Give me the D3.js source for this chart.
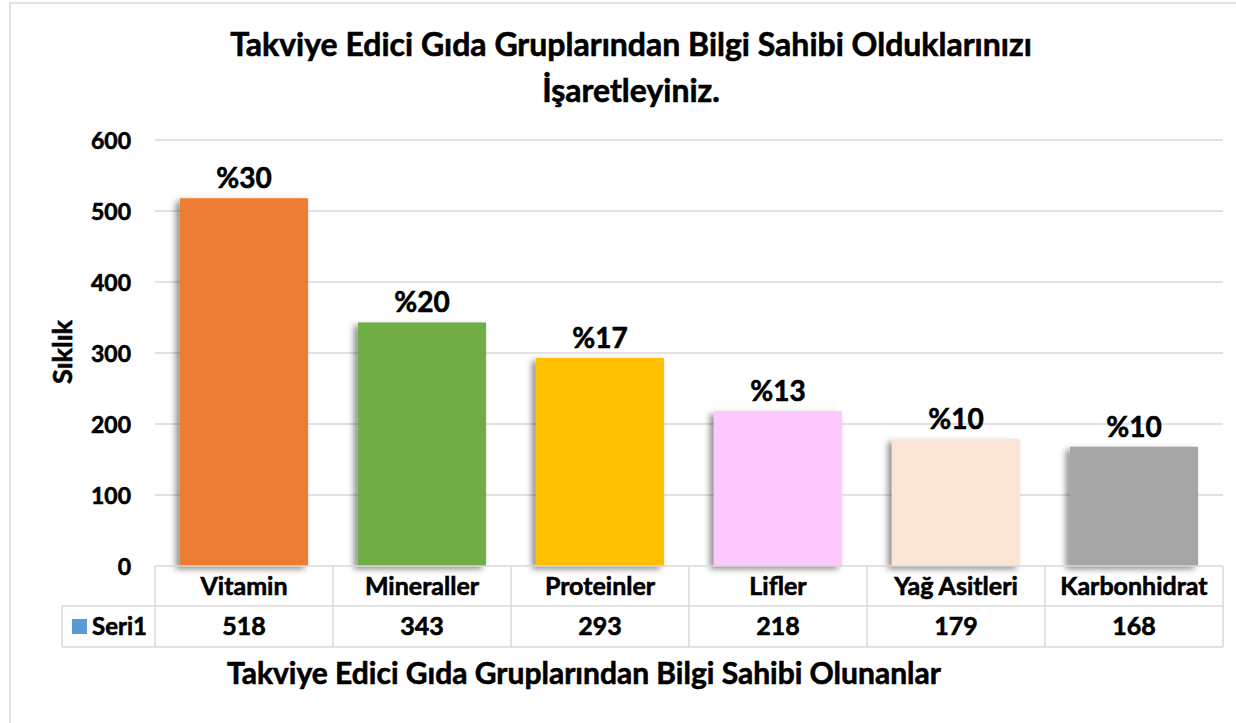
<!DOCTYPE html>
<html>
<head>
<meta charset="utf-8">
<script src="https://cdn.jsdelivr.net/npm/d3@7"></script>
<style>
body{margin:0;background:#fff;}
text{font-family:Lato,"Open Sans",sans-serif;font-weight:bold;fill:#000;stroke:#000;stroke-width:0.6px;}
</style>
</head>
<body>
<svg id="chart" width="1236" height="723"></svg>
<script>
// data
var categories=['Vitamin','Mineraller','Proteinler','Lifler','Yağ Asitleri','Karbonhidrat'];
var values=[518,343,293,218,179,168];
var percentLabels=['%30','%20','%17','%13','%10','%10'];
var barColors=['#ED7D31','#70AD47','#FFC000','#FCC9FF','#FBE5D6','#A5A5A5'];
var yTicks=[0,100,200,300,400,500,600];
var seriesName='Seri1';

var svg=d3.select('#chart');

// outer chart frame
svg.append('rect')
	.attr('x',10).attr('y',3)
	.attr('width',1240).attr('height',740)
	.attr('fill','none')
	.attr('stroke','#D9D9D9')
	.attr('stroke-width',1.5);

var plotLeft=155, plotRight=1223, plotTop=140, plotBottom=566;

var x=d3.scaleBand().domain(categories).range([plotLeft,plotRight]).paddingInner(0.28).paddingOuter(0.14);
var y=d3.scaleLinear().domain([0,600]).range([plotBottom,plotTop]);

// shadow for bars
var defs=svg.append('defs');
var f=defs.append('filter').attr('id','shadow').attr('x','-20%').attr('y','-20%').attr('width','140%').attr('height','140%');
f.append('feDropShadow').attr('dx',-4).attr('dy',3).attr('stdDeviation',3)
	.attr('flood-color','#000').attr('flood-opacity',0.45);

// gridlines
svg.append('g')
	.selectAll('line')
	.data(yTicks.filter(function(d){return d>0;}))
	.enter().append('line')
	.attr('x1',plotLeft).attr('x2',plotRight)
	.attr('y1',function(d){return y(d);})
	.attr('y2',function(d){return y(d);})
	.attr('stroke','#D9D9D9')
	.attr('stroke-width',1.5);

// y axis
var yAxis=svg.append('g')
	.attr('transform','translate(131,0)')
	.call(d3.axisLeft(y).tickValues(yTicks).tickSize(0).tickPadding(0));
yAxis.select('.domain').remove();
yAxis.selectAll('text')
	.attr('font-size',23)
	.attr('fill','#000')
	.style('font-family','Lato,"Open Sans",sans-serif')
	.style('font-weight','bold')
	.attr('dy','0.35em');

svg.append('text')
	.attr('transform','translate(72,352) rotate(-90)')
	.attr('text-anchor','middle')
	.attr('font-size',27)
	.text('Sıklık');

// bars
svg.append('g')
	.selectAll('rect')
	.data(values)
	.enter().append('rect')
	.attr('x',function(d,i){return x(categories[i]);})
	.attr('y',function(d){return y(d);})
	.attr('width',x.bandwidth())
	.attr('height',function(d){return plotBottom-y(d);})
	.attr('fill',function(d,i){return barColors[i];})
	.attr('filter','url(#shadow)');

// percent labels
svg.append('g')
	.selectAll('text')
	.data(values)
	.enter().append('text')
	.attr('x',function(d,i){return x(categories[i])+x.bandwidth()/2;})
	.attr('y',function(d){return y(d)-10;})
	.attr('text-anchor','middle')
	.attr('font-size',28)
	.text(function(d,i){return percentLabels[i];});

// data table
var step=x.step();
var tbl=svg.append('g').attr('stroke','#D9D9D9').attr('stroke-width',1.5).attr('fill','none');
var row1=566, row2=606, row3=647, legLeft=62;
tbl.append('line').attr('x1',plotLeft).attr('x2',plotRight).attr('y1',row1).attr('y2',row1);
tbl.append('line').attr('x1',legLeft).attr('x2',plotRight).attr('y1',row2).attr('y2',row2);
tbl.append('line').attr('x1',legLeft).attr('x2',plotRight).attr('y1',row3).attr('y2',row3);
tbl.append('line').attr('x1',legLeft).attr('x2',legLeft).attr('y1',row2).attr('y2',row3);
tbl.selectAll('line.col')
	.data(d3.range(categories.length+1))
	.enter().append('line')
	.attr('class','col')
	.attr('x1',function(i){return plotLeft+i*step;})
	.attr('x2',function(i){return plotLeft+i*step;})
	.attr('y1',row1).attr('y2',row3);

svg.append('g')
	.selectAll('text')
	.data(categories)
	.enter().append('text')
	.attr('x',function(d){return x(d)+x.bandwidth()/2;})
	.attr('y',(row1+row2)/2)
	.attr('dy','0.35em')
	.attr('text-anchor','middle')
	.attr('font-size',25)
	.text(function(d){return d;});

svg.append('g')
	.selectAll('text')
	.data(values)
	.enter().append('text')
	.attr('x',function(d,i){return x(categories[i])+x.bandwidth()/2;})
	.attr('y',(row2+row3)/2)
	.attr('dy','0.35em')
	.attr('text-anchor','middle')
	.attr('font-size',25)
	.text(function(d){return d;});

svg.append('rect')
	.attr('x',72).attr('y',619).attr('width',15).attr('height',15)
	.attr('fill','#5B9BD5');
svg.append('text')
	.attr('x',92).attr('y',(row2+row3)/2)
	.attr('dy','0.35em')
	.attr('font-size',24)
	.text(seriesName);

// titles
svg.append('text')
	.attr('x',631).attr('y',56)
	.attr('text-anchor','middle')
	.attr('font-size',32)
	.text('Takviye Edici Gıda Gruplarından Bilgi Sahibi Olduklarınızı');
svg.append('text')
	.attr('x',631).attr('y',102)
	.attr('text-anchor','middle')
	.attr('font-size',32)
	.text('İşaretleyiniz.');

svg.append('text')
	.attr('x',584).attr('y',684)
	.attr('text-anchor','middle')
	.attr('font-size',30)
	.text('Takviye Edici Gıda Gruplarından Bilgi Sahibi Olunanlar');
</script>
</body>
</html>
